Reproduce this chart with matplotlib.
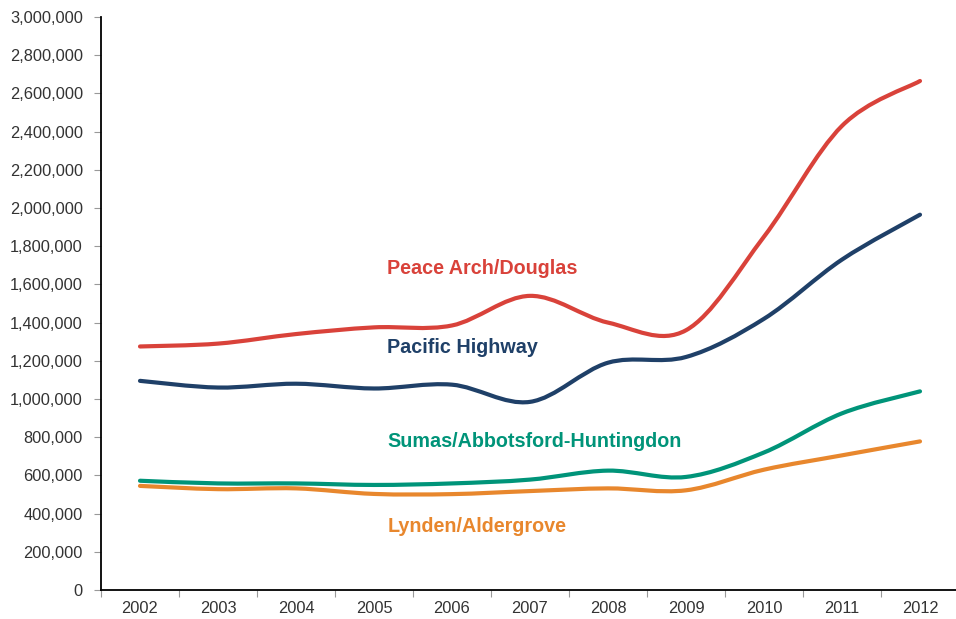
import matplotlib.pyplot as plt
from matplotlib.path import Path
from matplotlib.patches import PathPatch
from matplotlib.ticker import FuncFormatter, FixedLocator, NullFormatter

years = ["2002", "2003", "2004", "2005", "2006", "2007", "2008", "2009", "2010", "2011", "2012"]

peace_arch = [1275000, 1290000, 1340000, 1375000, 1385000, 1540000, 1400000, 1360000, 1850000, 2430000, 2665000]
pacific_hwy = [1095000, 1060000, 1080000, 1055000, 1075000, 985000, 1190000, 1220000, 1420000, 1730000, 1965000]
sumas = [572000, 558000, 558000, 550000, 558000, 578000, 625000, 592000, 720000, 925000, 1040000]
lynden = [545000, 528000, 532000, 503000, 502000, 518000, 532000, 522000, 630000, 705000, 778000]

series = [
    ("Peace Arch/Douglas", peace_arch, "#D9423A", 1.685e6),
    ("Pacific Highway", pacific_hwy, "#1F4068", 1.27e6),
    ("Sumas/Abbotsford-Huntingdon", sumas, "#009479", 0.78e6),
    ("Lynden/Aldergrove", lynden, "#E8872D", 0.33e6),
]


def smooth_path(xs, ys):
    # Catmull-Rom style bezier, like a spreadsheet "smoothed line"
    pts = list(zip(xs, ys))
    n = len(pts)
    verts = [pts[0]]
    codes = [Path.MOVETO]
    for i in range(n - 1):
        p0 = pts[i - 1] if i > 0 else pts[i]
        p1 = pts[i]
        p2 = pts[i + 1]
        p3 = pts[i + 2] if i + 2 < n else pts[i + 1]
        c1 = (p1[0] + (p2[0] - p0[0]) / 6, p1[1] + (p2[1] - p0[1]) / 6)
        c2 = (p2[0] - (p3[0] - p1[0]) / 6, p2[1] - (p3[1] - p1[1]) / 6)
        verts += [c1, c2, p2]
        codes += [Path.CURVE4] * 3
    return Path(verts, codes)


plt.rcParams["font.family"] = ["Liberation Sans", "DejaVu Sans"]

fig = plt.figure(figsize=(9.56, 6.19), dpi=100)
ax = fig.add_axes([101 / 956, 29 / 619, 858 / 956, 573 / 619])

x = list(range(len(years)))
for name, vals, color, label_y in series:
    patch = PathPatch(smooth_path(x, vals), facecolor="none", edgecolor=color,
                      lw=3, capstyle="round", joinstyle="round")
    ax.add_patch(patch)
    ax.text(3.17, label_y, name, color=color, fontsize=14.2, fontweight="bold",
            va="center", ha="left")

ax.set_xlim(-0.5, len(years) - 0.5)
ax.set_ylim(0, 3000000)
ax.set_yticks(range(0, 3000001, 200000))
ax.yaxis.set_major_formatter(FuncFormatter(lambda v, p: f"{int(v):,}"))

ax.xaxis.set_major_locator(FixedLocator([i - 0.5 for i in range(len(years) + 1)]))
ax.xaxis.set_major_formatter(NullFormatter())
ax.xaxis.set_minor_locator(FixedLocator(x))
ax.set_xticklabels(years, minor=True)
ax.tick_params(axis="x", which="minor", length=0, pad=8, labelsize=11.8, labelcolor="#333333")
ax.tick_params(axis="x", which="major", length=5, color="#999999", direction="out")
ax.tick_params(axis="y", length=5, color="#999999", labelsize=11.8, labelcolor="#333333", pad=8)

for s in ["top", "right"]:
    ax.spines[s].set_visible(False)
ax.spines["left"].set_linewidth(1.3)
ax.spines["bottom"].set_linewidth(1.3)

fig.savefig("out.png", dpi=100)
